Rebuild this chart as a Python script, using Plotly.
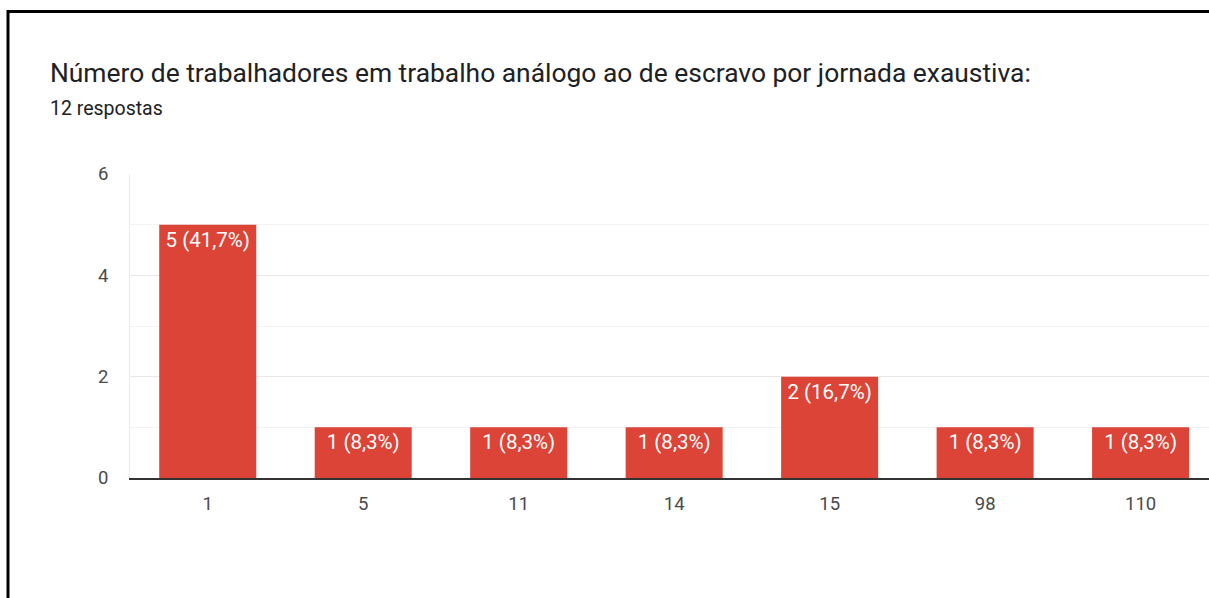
import plotly.graph_objects as go

categories = ["1", "5", "11", "14", "15", "98", "110"]
counts = [5, 1, 1, 1, 2, 1, 1]
total_responses = 12
y_ticks = [0, 2, 4, 6]
title_text = "Número de trabalhadores em trabalho análogo ao de escravo por jornada exaustiva:"
subtitle_text = f"{total_responses} respostas"

labels = [f"{c} ({c / total_responses * 100:.1f}%)".replace(".", ",") for c in counts]

W, H = 1209, 598
L, R, T, B = 130, 0, 174, 120
pw, ph = W - L - R, H - T - B

def px(x):
    return (x - L) / pw

def py(y):
    return (H - B - y) / ph

fig = go.Figure()
fig.add_trace(go.Bar(
    x=categories, y=counts, text=labels,
    textposition="inside", insidetextanchor="end",
    textfont=dict(color="white", size=20.5, family="Roboto"),
    marker=dict(color="#db4437", line=dict(width=0)),
    width=0.624, cliponaxis=False, hoverinfo="skip",
))

fig.update_layout(
    width=W, height=H,
    margin=dict(l=L, r=R, t=T, b=B, pad=0),
    paper_bgcolor="white", plot_bgcolor="white",
    font=dict(family="Roboto", color="#4a4a4a", size=18),
    showlegend=False,
    xaxis=dict(
        type="category", range=[-0.5, 6.44],
        showline=True, linecolor="#333333", linewidth=2,
        showgrid=False, ticks="", ticklabelstandoff=8,
        tickfont=dict(size=18.5, color="#4a4a4a"),
    ),
    yaxis=dict(
        range=[0, 6], tickvals=y_ticks,
        showgrid=True, gridcolor="#e8e8e8", gridwidth=1,
        minor=dict(dtick=1, showgrid=True, gridcolor="#f3f3f3"),
        zeroline=False, showline=True, linecolor="#ebebeb", linewidth=1,
        ticks="", ticklabelstandoff=17,
        tickfont=dict(size=18.5, color="#4a4a4a"),
    ),
    annotations=[
        dict(text=title_text, xref="paper", yref="paper", x=px(48), y=py(73),
             xanchor="left", yanchor="middle", showarrow=False,
             font=dict(size=26.4, color="#202124", family="Roboto")),
        dict(text=subtitle_text, xref="paper", yref="paper", x=px(48), y=py(109),
             xanchor="left", yanchor="middle", showarrow=False,
             font=dict(size=19.5, color="#202124", family="Roboto")),
    ],
    shapes=[
        dict(type="line", xref="paper", yref="paper", x0=px(8), x1=px(8), y0=py(10), y1=py(620),
             line=dict(color="black", width=3)),
        dict(type="line", xref="paper", yref="paper", x0=px(7), x1=px(1230), y0=py(11.5), y1=py(11.5),
             line=dict(color="black", width=3)),
    ],
)

fig.write_html("out.html", config={"displayModeBar": False},
               post_script="document.body.style.margin='0';")
